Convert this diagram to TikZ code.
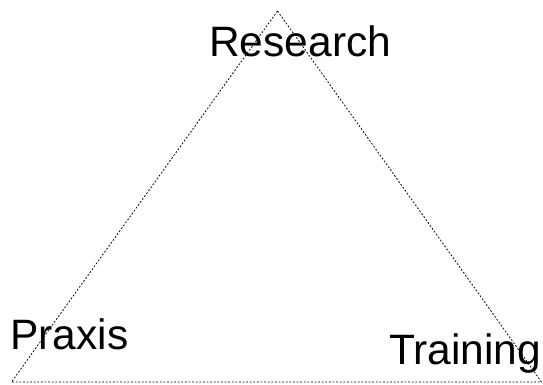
\documentclass[tikz,border=0pt]{standalone}
\usepackage{fontspec}
\setmainfont{Liberation Sans}
\usetikzlibrary{positioning}
\tikzset{
  corner/.style={font=\fontsize{42.5}{42.5}\selectfont, inner sep=0pt, anchor=base west},
  edge/.style={line width=0.8pt, dash pattern=on 1.8pt off 1.8pt}
}
\begin{document}
\begin{tikzpicture}[x=1pt, y=-1pt]
	\useasboundingbox (0,0) rectangle (543,385);
	
	% Triangle
	\coordinate (top) at (277.5,11);
	\coordinate (left) at (11.5,382);
	\coordinate (right) at (541.5,382);
	\draw[edge] (top) -- (left) -- (right) -- cycle;
	
	% Labels
	\node[corner] (research) at (209,57) {Research};
	\node[corner] (praxis) at (10,349) {Praxis};
	\node[corner] (training) at (389,364) {Training};
\end{tikzpicture}
\end{document}
